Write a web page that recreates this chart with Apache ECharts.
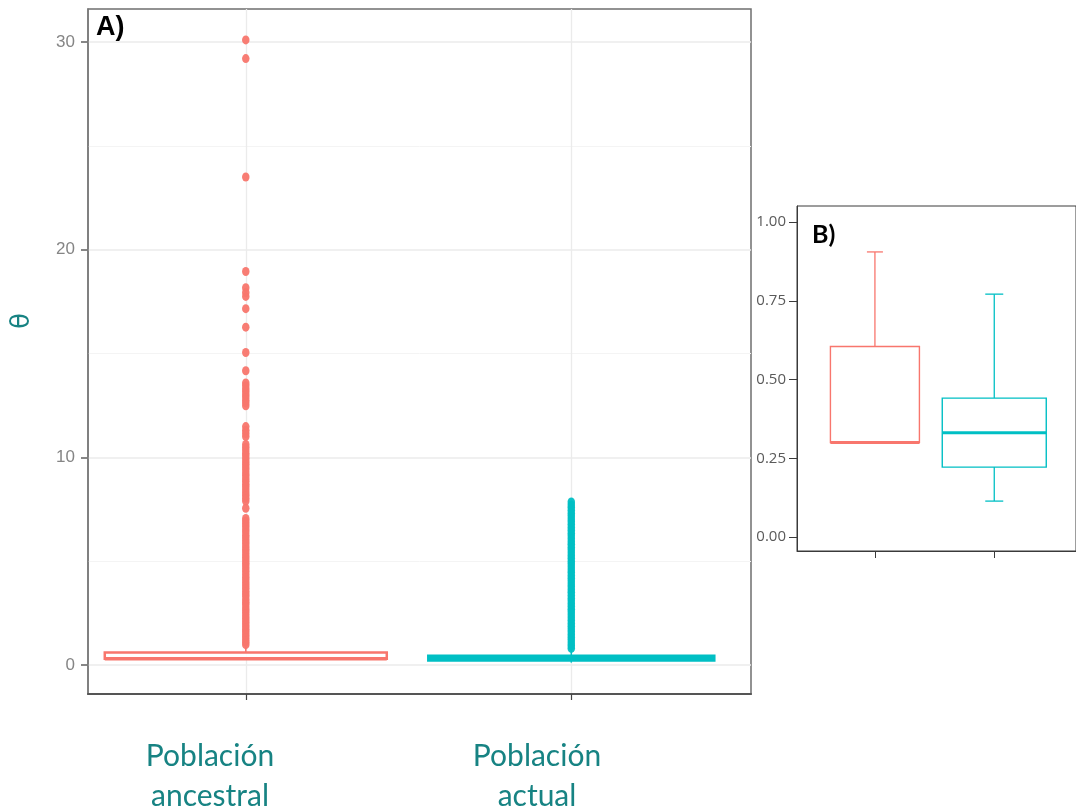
<!DOCTYPE html>
<html>
<head>
<meta charset="utf-8">
<title>θ – Población ancestral vs actual</title>
<script src="https://cdn.jsdelivr.net/npm/echarts@6/dist/echarts.min.js"></script>
<style>
  html, body { margin: 0; padding: 0; background: #ffffff; }
  #chart { width: 1076px; height: 810px; }
</style>
</head>
<body>
<div id="chart"></div>
<script>
// ---- data ----
const categories = ['Población\nancestral', 'Población\nactual'];

// five-number summaries: [min whisker, Q1, median, Q3, max whisker]
const ancestralBox = [0.30, 0.30, 0.30, 0.605, 0.905];
const actualBox = [0.114, 0.222, 0.331, 0.441, 0.771];

// outlying θ values drawn as points
const ancestralOutliers = [
  0.98, 1.1, 1.22, 1.35, 1.47, 1.6, 1.72, 1.85, 1.98, 2.1, 2.23, 2.36, 2.5, 2.62,
  2.75, 2.9, 3.02, 3.15, 3.3, 3.42, 3.55, 3.7, 3.83, 3.96, 4.1, 4.22, 4.36, 4.5,
  4.63, 4.77, 4.9, 5.03, 5.17, 5.3, 5.44, 5.58, 5.71, 5.85, 5.98, 6.12, 6.25, 6.4,
  6.53, 6.67, 6.8, 6.94, 7.06,
  7.55,
  7.9, 8.03, 8.17, 8.3, 8.44, 8.58, 8.7, 8.85, 8.98, 9.12, 9.25, 9.4, 9.53, 9.67,
  9.8, 9.94, 10.08, 10.2, 10.35, 10.48, 10.62,
  11.0, 11.15, 11.3, 11.48,
  12.48, 12.62, 12.75, 12.9, 13.03, 13.17, 13.3, 13.45, 13.58,
  14.17, 15.05, 16.27, 17.16, 17.75, 17.94, 18.17, 18.95, 23.5, 29.2, 30.1
];
const actualOutliers = [
  0.8, 0.93, 1.06, 1.2, 1.33, 1.46, 1.6, 1.73, 1.87, 2.0, 2.14, 2.27, 2.41, 2.55,
  2.68, 2.82, 2.95, 3.09, 3.22, 3.36, 3.5, 3.63, 3.77, 3.9, 4.04, 4.18, 4.31, 4.45,
  4.58, 4.72, 4.86, 4.99, 5.13, 5.26, 5.4, 5.54, 5.67, 5.81, 5.94, 6.08, 6.22, 6.35,
  6.49, 6.62, 6.76, 6.9, 7.03, 7.17, 7.3, 7.44, 7.58, 7.71, 7.85
];

const yTicksMain = [0, 10, 20, 30];
const yMinorMain = [5, 15, 25];
const yTicksInset = [0, 0.25, 0.5, 0.75, 1.0];

// ---- styling ----
const RED = '#F8766D';
const TEAL = '#00BFC4';
const LABEL_TEAL = '#178383';

const chart = echarts.init(document.getElementById('chart'), null, { renderer: 'canvas' });

// box + whisker drawn with custom series; widths in pixels
function boxRenderer(opts) {
  return function (params, api) {
    const x = api.value(0);
    const lo = api.value(1), q1 = api.value(2), med = api.value(3), q3 = api.value(4), hi = api.value(5);
    const color = opts.colors[params.dataIndex];
    const w = opts.widths[params.dataIndex];
    const pQ1 = api.coord([x, q1]);
    const pQ3 = api.coord([x, q3]);
    const pMed = api.coord([x, med]);
    const pLo = api.coord([x, lo]);
    const pHi = api.coord([x, hi]);
    const cx = pQ1[0];
    const children = [];
    const lineStyle = { stroke: color, lineWidth: opts.whiskerWidth, fill: null };
    if (hi > q3) {
      children.push({ type: 'line', shape: { x1: cx, y1: pQ3[1], x2: cx, y2: pHi[1] }, style: lineStyle });
      if (opts.cap) children.push({ type: 'line', shape: { x1: cx - opts.cap[params.dataIndex] / 2, y1: pHi[1], x2: cx + opts.cap[params.dataIndex] / 2, y2: pHi[1] }, style: lineStyle });
    }
    if (lo < q1) {
      children.push({ type: 'line', shape: { x1: cx, y1: pQ1[1], x2: cx, y2: pLo[1] }, style: lineStyle });
      if (opts.cap) children.push({ type: 'line', shape: { x1: cx - opts.cap[params.dataIndex] / 2, y1: pLo[1], x2: cx + opts.cap[params.dataIndex] / 2, y2: pLo[1] }, style: lineStyle });
    }
    children.push({
      type: 'rect',
      shape: { x: cx - w / 2, y: pQ3[1], width: w, height: pQ1[1] - pQ3[1] },
      style: { stroke: color, lineWidth: opts.boxWidth, fill: opts.fill }
    });
    children.push({
      type: 'line',
      shape: { x1: cx - w / 2, y1: pMed[1], x2: cx + w / 2, y2: pMed[1] },
      style: { stroke: color, lineWidth: opts.medianWidth }
    });
    return { type: 'group', children: children };
  };
}

const mainBoxes = [[0].concat(ancestralBox), [1].concat(actualBox)];
const insetBoxes = [[0].concat(ancestralBox), [1].concat(actualBox)];

const option = {
  backgroundColor: '#ffffff',
  animation: false,
  grid: [
    { left: 88, top: 9, width: 663, height: 685, show: true, borderColor: '#6f6f6f', borderWidth: 1.5, backgroundColor: '#ffffff' },
    { left: 797, top: 206, width: 290, height: 345, show: true, borderColor: '#3a3a3a', borderWidth: 1, backgroundColor: '#ffffff' }
  ],
  xAxis: [
    {
      gridIndex: 0, type: 'value', min: -0.4847, max: 1.5521,
      axisLine: { show: true, onZero: false, lineStyle: { color: '#555555', width: 2 } },
      axisTick: { show: true, customValues: [0, 1], length: 6, lineStyle: { color: '#444444', width: 1.2 } },
      axisLabel: { show: false, customValues: [0, 1] },
      splitLine: { show: true, lineStyle: { color: '#ebebeb', width: 1.3 } }
    },
    {
      gridIndex: 1, type: 'value', min: -0.653, max: 1.685,
      axisLine: { show: true, onZero: false, lineStyle: { color: '#3a3a3a', width: 1 } },
      axisTick: { show: true, customValues: [0, 1], length: 7, lineStyle: { color: '#3a3a3a', width: 1 } },
      axisLabel: { show: false, customValues: [0, 1] },
      splitLine: { show: false }
    }
  ],
  yAxis: [
    {
      gridIndex: 0, type: 'value', min: -1.396, max: 31.589,
      axisLine: { show: true, onZero: false, lineStyle: { color: '#7a7a7a', width: 1.5 } },
      axisTick: { show: true, customValues: yTicksMain, length: 7, lineStyle: { color: '#7a7a7a', width: 1.8 } },
      axisLabel: { customValues: yTicksMain, color: '#858585', fontSize: 17, fontFamily: 'Liberation Sans, Arial, sans-serif', margin: 13 },
      splitLine: { show: true, lineStyle: { color: '#ebebeb', width: 1.5 } }
    },
    {
      gridIndex: 0, type: 'value', min: -1.396, max: 31.589,
      axisLine: { show: false },
      axisTick: { show: false, customValues: yMinorMain },
      axisLabel: { show: false, customValues: yMinorMain },
      splitLine: { show: true, lineStyle: { color: '#f4f4f4', width: 1 } }
    },
    {
      gridIndex: 1, type: 'value', min: -0.0444, max: 1.0508,
      axisLine: { show: true, onZero: false, lineStyle: { color: '#3a3a3a', width: 1 } },
      axisTick: { show: true, customValues: yTicksInset, length: 8, lineStyle: { color: '#3a3a3a', width: 1 } },
      axisLabel: {
        customValues: yTicksInset, color: '#5a5a5a', fontSize: 15, fontFamily: 'Open Sans, sans-serif', margin: 11,
        formatter: function (v) { return v.toFixed(2); }
      },
      splitLine: { show: false }
    }
  ],
  series: [
    {
      type: 'custom', xAxisIndex: 0, yAxisIndex: 0, z: 3,
      renderItem: boxRenderer({
        colors: [RED, TEAL], widths: [282, 286], boxWidth: 2.5, medianWidth: 3.5, whiskerWidth: 1.5,
        fill: 'rgba(255,255,255,0.9)', cap: null
      }),
      encode: { x: 0, y: [1, 2, 3, 4, 5] },
      data: mainBoxes
    },
    {
      type: 'scatter', xAxisIndex: 0, yAxisIndex: 0, z: 4,
      symbol: 'circle', symbolSize: [7.5, 9],
      itemStyle: { color: RED, opacity: 0.95 },
      data: ancestralOutliers.map(function (v) { return [0, v]; })
    },
    {
      type: 'scatter', xAxisIndex: 0, yAxisIndex: 0, z: 4,
      symbol: 'circle', symbolSize: [7.5, 9],
      itemStyle: { color: TEAL, opacity: 0.95 },
      data: actualOutliers.map(function (v) { return [1, v]; })
    },
    {
      type: 'custom', xAxisIndex: 1, yAxisIndex: 2, z: 3,
      renderItem: boxRenderer({
        colors: [RED, TEAL], widths: [89, 104], boxWidth: 1.4, medianWidth: 3, whiskerWidth: 1.3,
        fill: '#ffffff', cap: [16, 18]
      }),
      encode: { x: 0, y: [1, 2, 3, 4, 5] },
      data: insetBoxes
    }
  ],
  graphic: [
    {
      type: 'text', left: 96, top: 14, z: 10,
      style: { text: 'A)', font: 'bold 27px "Liberation Sans", Arial, sans-serif', fill: '#000000' }
    },
    {
      type: 'text', left: 812, top: 222, z: 10,
      style: { text: 'B)', font: 'bold 25px Lato, "Open Sans", sans-serif', fill: '#000000' }
    },
    {
      type: 'text', x: 22, y: 321, rotation: Math.PI / 2, z: 10,
      style: { text: 'θ', font: '26px "DejaVu Sans", sans-serif', fill: LABEL_TEAL, align: 'center', verticalAlign: 'middle' }
    },
    {
      type: 'text', x: 210, y: 776, z: 10,
      style: { text: categories[0], font: '30px Lato, sans-serif', lineHeight: 40, fill: LABEL_TEAL, align: 'center', verticalAlign: 'middle' }
    },
    {
      type: 'text', x: 537, y: 776, z: 10,
      style: { text: categories[1], font: '30px Lato, sans-serif', lineHeight: 40, fill: LABEL_TEAL, align: 'center', verticalAlign: 'middle' }
    }
  ]
};

chart.setOption(option);
</script>
</body>
</html>
